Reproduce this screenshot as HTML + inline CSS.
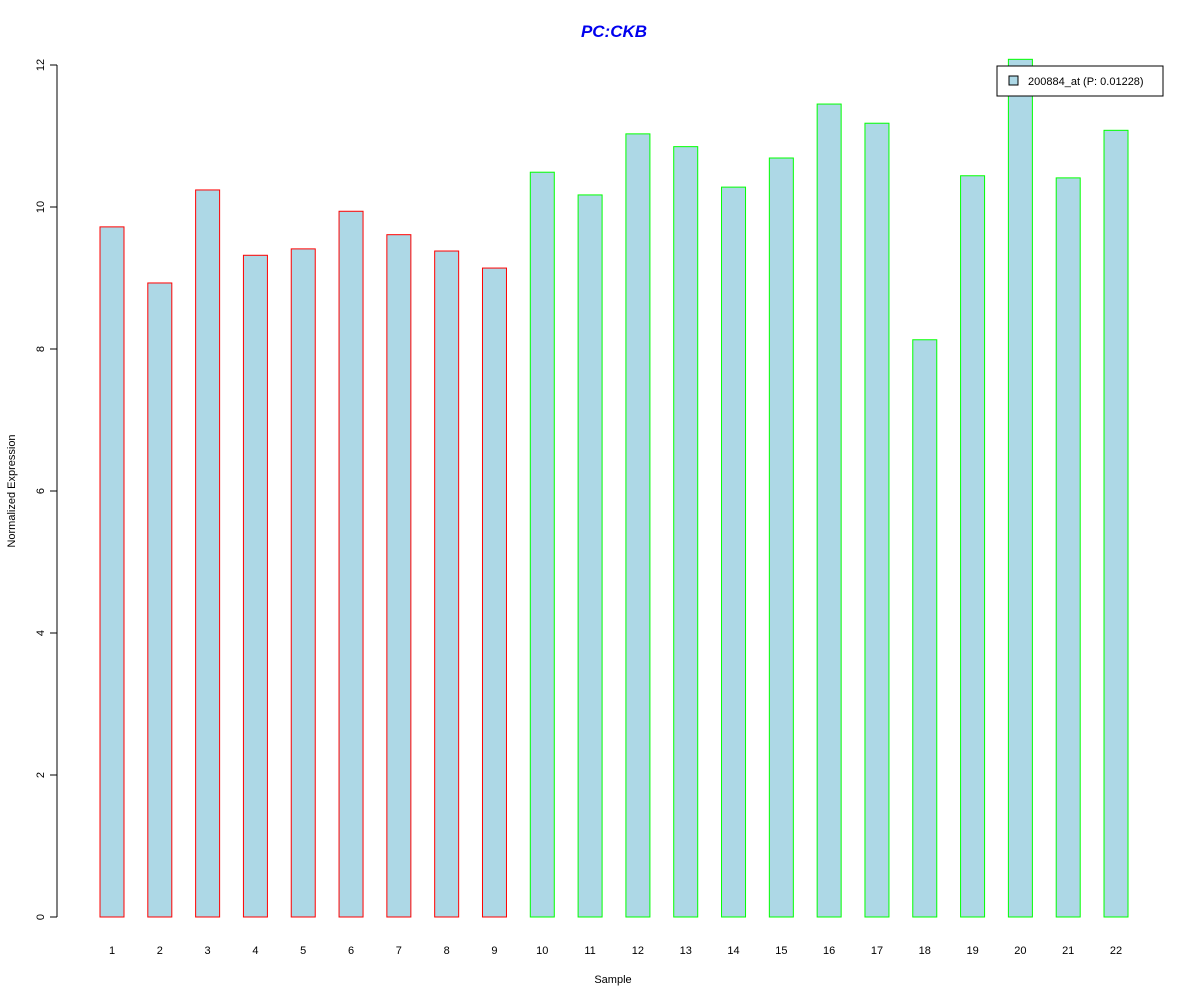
<!DOCTYPE html>
<html><head><meta charset="utf-8"><style>body{margin:0;background:#fff}svg{display:block;font-family:"Liberation Sans",sans-serif}</style></head>
<body>
<svg id="chart" width="1200" height="1000" viewBox="0 0 1200 1000">
<text x="614" y="37" text-anchor="middle" font-size="17" font-weight="bold" font-style="italic" fill="#0000ee">PC:CKB</text>
<g id="yaxis"></g>
<g id="bars"></g>
<g id="xlabels"></g>
<text x="613" y="983" text-anchor="middle" font-size="11">Sample</text>
<text transform="translate(15,491) rotate(-90)" text-anchor="middle" font-size="11">Normalized Expression</text>
<g>
<rect x="997" y="66" width="166" height="30" fill="#fff" stroke="#000"/>
<rect x="1009" y="76" width="9" height="9" fill="#add8e6" stroke="#000"/>
<text x="1028" y="85" font-size="11">200884_at (P: 0.01228)</text>
</g>
</svg>
<script>
const categories=["1","2","3","4","5","6","7","8","9","10","11","12","13","14","15","16","17","18","19","20","21","22"];
const values=[9.72,8.93,10.24,9.32,9.41,9.94,9.61,9.38,9.14,10.49,10.17,11.03,10.85,10.28,10.69,11.45,11.18,8.13,10.44,12.08,10.41,11.08];
const groups=["r","r","r","r","r","r","r","r","r","g","g","g","g","g","g","g","g","g","g","g","g","g"];
const yTicks=[0,2,4,6,8,10,12];
const NS="http://www.w3.org/2000/svg";
const y=v=>917-v*71;
const xc=i=>112+i*47.81;
function mk(t,a,p){const e=document.createElementNS(NS,t);for(const k in a)e.setAttribute(k,a[k]);p.appendChild(e);return e;}
const ya=document.getElementById('yaxis');
const axl=mk('line',{x1:57,x2:57,y1:y(yTicks[yTicks.length-1]),y2:y(yTicks[0]),stroke:'#000'},ya);


yTicks.forEach(t=>{
 const l=mk('line',{x1:50,x2:57,y1:y(t),y2:y(t),stroke:'#000'},ya);
 
 
 const tx=mk('text',{transform:`translate(44,${y(t)}) rotate(-90)`,'text-anchor':'middle','font-size':11},ya);
 
 
 tx.textContent=t;
});
const bg=document.getElementById('bars'),xl=document.getElementById('xlabels');
values.forEach((v,i)=>{
 const r=mk('rect',{x:xc(i)-12,y:y(v),width:24,height:y(0)-y(v),fill:'#add8e6',stroke:groups[i]==='r'?'#ff0000':'#00ff00'},bg);
 
 
 const t=mk('text',{x:xc(i),y:954,'text-anchor':'middle','font-size':11},xl);
 
 
 t.textContent=categories[i];
});
</script>
</body></html>
